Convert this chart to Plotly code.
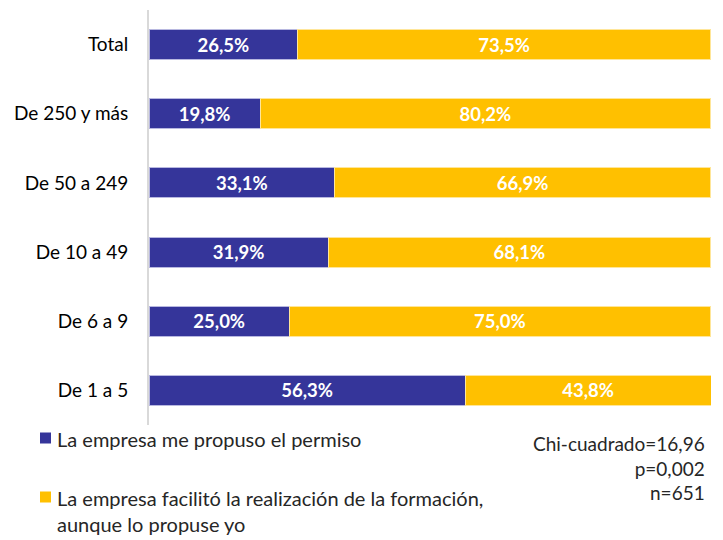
import plotly.graph_objects as go

categories = ["De 1 a 5", "De 6 a 9", "De 10 a 49", "De 50 a 249", "De 250 y más", "Total"]
propuso = [56.3, 25.0, 31.9, 33.1, 19.8, 26.5]
facilito = [43.8, 75.0, 68.1, 66.9, 80.2, 73.5]

series_names = ["La empresa me propuso el permiso",
                "La empresa facilitó la realización de la formación,<br>aunque lo propuse yo"]
stats_lines = ["Chi-cuadrado=16,96", "p=0,002", "n=651"]

FONT = "Lato, 'Open Sans', sans-serif"
BLUE = "#35359A"
YELLOW = "#FFC000"
OFF = 8  # page body margin
W, H = 723 - OFF, 540 - OFF
L, T = 149 - OFF, 10 - OFF
R = W - (711 - OFF)
B = H - (425 - OFF)
PW, PH = W - L - R, H - T - B

def px_x(x):
    return (x - OFF - L) / PW

def px_y(y):
    return (H - B - (y - OFF)) / PH

def fmt(v):
    return f"{v:.1f}%".replace(".", ",")

fig = go.Figure()
for vals, name, col, lc in [(propuso, series_names[0], BLUE, "#B8B8E0"),
                            (facilito, series_names[1], YELLOW, "#FFE699")]:
    fig.add_trace(go.Bar(
        y=categories, x=vals, orientation="h", name=name,
        marker=dict(color=col, line=dict(color=lc, width=1)),
        text=[fmt(v) for v in vals], textposition="inside", insidetextanchor="middle",
        textfont=dict(family=FONT, size=18.5, color="white", weight="bold"),
        showlegend=False, cliponaxis=False,
    ))

fig.update_layout(
    barmode="stack",
    bargap=0.565,
    width=W, height=H,
    margin=dict(l=L, r=R, t=T, b=B, autoexpand=False),
    plot_bgcolor="white", paper_bgcolor="white",
    font=dict(family=FONT, size=19, color="#000000"),
    xaxis=dict(range=[0, 100.1], visible=False, showgrid=False, fixedrange=True),
    yaxis=dict(showline=True, linecolor="#D9D9D9", linewidth=2, ticks="",
               automargin=False,
               ticklabelstandoff=15, tickfont=dict(size=19, color="#000000")),
    showlegend=False,
)

# manual legend
legend_items = [(series_names[0], BLUE, 438), (series_names[1], YELLOW, 497)]
for name, col, yc in legend_items:
    fig.add_shape(type="rect", xref="paper", yref="paper",
                  x0=px_x(40), x1=px_x(51), y0=px_y(yc - 5.5), y1=px_y(yc + 5.5),
                  fillcolor=col, line=dict(width=0))
    fig.add_annotation(xref="paper", yref="paper", x=px_x(55), y=px_y(yc - 13),
                       text=name, showarrow=False, align="left",
                       xanchor="left", yanchor="top",
                       font=dict(family=FONT, size=20, color="#262626"))

fig.add_annotation(
    xref="paper", yref="paper", x=px_x(707), y=px_y(430),
    text="<br>".join(stats_lines), showarrow=False, align="right",
    xanchor="right", yanchor="top",
    font=dict(family=FONT, size=19, color="#262626"),
)

fig.write_html("out.html")
